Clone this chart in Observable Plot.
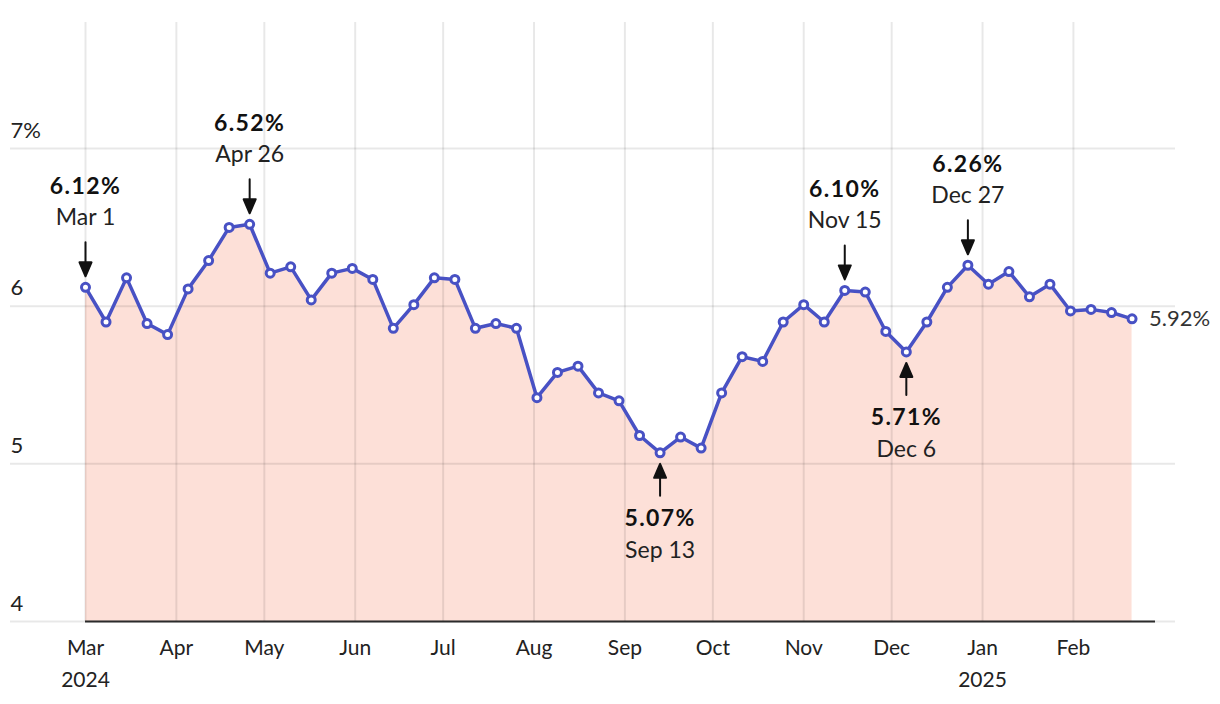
<!DOCTYPE html>
<html><head><meta charset="utf-8">
<script src="https://cdn.jsdelivr.net/npm/d3@7"></script>
<script src="https://cdn.jsdelivr.net/npm/@observablehq/plot@0.6"></script>
<style>
html,body{margin:0;padding:0;background:#fff;}
#chart svg{display:block;}
</style></head><body><div id="chart"></div>
<script>
const dates = [
  "2024-03-01","2024-03-08","2024-03-15","2024-03-22","2024-03-29",
  "2024-04-05","2024-04-12","2024-04-19","2024-04-26",
  "2024-05-03","2024-05-10","2024-05-17","2024-05-24","2024-05-31",
  "2024-06-07","2024-06-14","2024-06-21","2024-06-28",
  "2024-07-05","2024-07-12","2024-07-19","2024-07-26",
  "2024-08-02","2024-08-09","2024-08-16","2024-08-23","2024-08-30",
  "2024-09-06","2024-09-13","2024-09-20","2024-09-27",
  "2024-10-04","2024-10-11","2024-10-18","2024-10-25",
  "2024-11-01","2024-11-08","2024-11-15","2024-11-22","2024-11-29",
  "2024-12-06","2024-12-13","2024-12-20","2024-12-27",
  "2025-01-03","2025-01-10","2025-01-17","2025-01-24","2025-01-31",
  "2025-02-07","2025-02-14","2025-02-21"
];
const rates = [
  6.12, 5.90, 6.18, 5.89, 5.82,
  6.11, 6.29, 6.50, 6.52,
  6.21, 6.25, 6.04, 6.21, 6.24,
  6.17, 5.86, 6.01, 6.18,
  6.17, 5.86, 5.89, 5.86,
  5.42, 5.58, 5.62, 5.45, 5.40,
  5.18, 5.07, 5.17, 5.10,
  5.45, 5.68, 5.65, 5.90,
  6.01, 5.90, 6.10, 6.09, 5.84,
  5.71, 5.90, 6.12, 6.26,
  6.14, 6.22, 6.06, 6.14, 5.97,
  5.98, 5.96, 5.92
];
const monthTicks = [
  "2024-03-01","2024-04-01","2024-05-01","2024-06-01","2024-07-01","2024-08-01",
  "2024-09-01","2024-10-01","2024-11-01","2024-12-01","2025-01-01","2025-02-01"
];
const yTicks = [4, 5, 6, 7];
const yTickLabels = ["4", "5", "6", "7%"];
const peakDates = ["2024-03-01", "2024-04-26", "2024-11-15", "2024-12-27"];
const troughDates = ["2024-09-13", "2024-12-06"];
const xDomain = ["2024-03-01", "2025-03-01"];
const yDomain = [4, 7.8];

const FONT = "Lato, 'Source Sans Pro', sans-serif";
const LINE = "#4851c4";
const AREA = "#fde0d8";

const parse = d3.utcParse("%Y-%m-%d");
const data = dates.map((d, i) => ({date: parse(d), value: rates[i]}));
const byKey = new Map(dates.map((d, i) => [d, data[i]]));
const peaks = peakDates.map(d => byKey.get(d));
const troughs = troughDates.map(d => byKey.get(d));
const last = [data[data.length - 1]];
const ticksX = monthTicks.map(parse);
const yTickData = yTicks.map((v, i) => ({v, label: yTickLabels[i]}));

const fmtDay = d3.utcFormat("%b %-d");
const fmtPct = v => v.toFixed(2) + "%";
const fmtMonth = (d, i) => {
  const m = d3.utcFormat("%b")(d);
  return (i === 0 || d.getUTCMonth() === 0) ? m + "\n" + d3.utcFormat("%Y")(d) : m;
};

const arrowShape = {
  draw(context, l) {
    const h = 14, w = 6;
    context.moveTo(0, 0);
    context.lineTo(0, -l + h);
    context.moveTo(0, -l);
    context.lineTo(-w, -l + h);
    context.lineTo(w, -l + h);
    context.closePath();
  }
};

const chart = Plot.plot({
  width: 1220,
  height: 704,
  marginLeft: 85,
  marginRight: 65,
  marginTop: 22,
  marginBottom: 83,
  style: {fontFamily: FONT, fontSize: "21px", color: "#222", background: "#fff"},
  x: {type: "utc", domain: xDomain.map(parse), axis: null},
  y: {domain: yDomain, axis: null},
  marks: [
    Plot.areaY(data, {x: "date", y: "value", fill: AREA, clip: true, curve: "linear"}),
    Plot.ruleX(ticksX, {stroke: "#000", strokeOpacity: 0.09, strokeWidth: 2}),
    Plot.ruleY(yTicks, {stroke: "#000", strokeOpacity: 0.09, strokeWidth: 2, insetLeft: -75, insetRight: -20}),
    Plot.ruleY([yDomain[0]], {stroke: "#2b2b2b", strokeWidth: 2}),
    Plot.text(yTickData, {y: "v", text: "label", frameAnchor: "left", textAnchor: "start", dx: -75, dy: -18, fill: "#222", fontSize: 22}),
    Plot.text(ticksX, {x: d => d, text: (d, i) => fmtMonth(d, i), frameAnchor: "bottom", lineAnchor: "top", dy: 11, lineHeight: 1.52, fill: "#222", fontSize: 21}),
    Plot.line(data, {x: "date", y: "value", stroke: LINE, strokeWidth: 3.5, strokeLinejoin: "round"}),
    Plot.dot(data, {x: "date", y: "value", r: 4, fill: "#fff", stroke: LINE, strokeWidth: 3}),
    Plot.vector(peaks, {x: "date", y: "value", length: 34, rotate: 180, anchor: "end", shape: arrowShape, dy: -11, stroke: "#111", fill: "#111", strokeWidth: 2}),
    Plot.vector(troughs, {x: "date", y: "value", length: 32, rotate: 0, anchor: "end", shape: arrowShape, dy: 11, stroke: "#111", fill: "#111", strokeWidth: 2}),
    Plot.text(peaks, {x: "date", y: "value", text: d => fmtPct(d.value), dy: -101, fontWeight: "bold", fill: "#111", fontSize: 23, className: "val"}),
    Plot.text(peaks, {x: "date", y: "value", text: d => fmtDay(d.date), dy: -70, fill: "#222", fontSize: 23}),
    Plot.text(troughs, {x: "date", y: "value", text: d => fmtPct(d.value), dy: 66, fontWeight: "bold", fill: "#111", fontSize: 23, className: "val"}),
    Plot.text(troughs, {x: "date", y: "value", text: d => fmtDay(d.date), dy: 98, fill: "#222", fontSize: 23}),
    Plot.text(last, {x: "date", y: "value", text: d => fmtPct(d.value), textAnchor: "start", dx: 17, fill: "#333", fontSize: 22})
  ]
});
d3.select(chart).selectAll(".val text").style("letter-spacing", "1.4px");
document.getElementById("chart").appendChild(chart);
</script>
</body></html>
